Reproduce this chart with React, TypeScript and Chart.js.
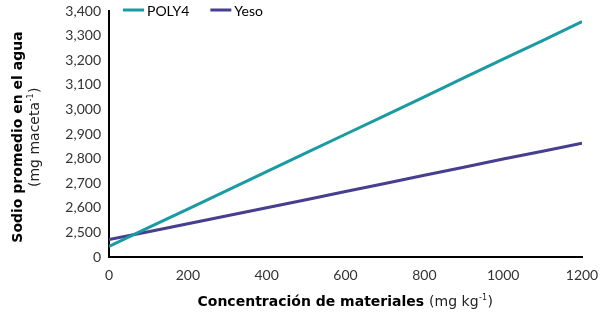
import { useEffect, useRef } from "react";
import { Chart, registerables } from "chart.js";

Chart.register(...registerables);

const concentrations = [0, 100, 200, 300, 400, 500, 600, 700, 800, 900, 1000, 1100, 1200];
const poly4Values = [2443, 2519, 2595, 2671, 2747, 2823, 2899, 2975, 3051, 3128, 3204, 3280, 3357];
const yesoValues = [2471, 2503, 2535, 2568, 2600, 2633, 2666, 2699, 2732, 2765, 2798, 2830, 2863];
const seriesNames = ["POLY4", "Yeso"];
const seriesColors = ["#1a9aa2", "#463e8e"];
const yMin = 2400;
const yMax = 3400;
const yStep = 100;
const yBreakLabel = "0";
const xTickValues = [0, 200, 400, 600, 800, 1000, 1200];
const xTitleBold = "Concentración de materiales";
const xTitleUnit = "(mg kg";
const yTitleBold = "Sodio promedio en el agua";
const yTitleUnit = "(mg maceta";

const FONT = "Lato, 'DejaVu Sans', sans-serif";
const TITLE_FONT = "'DejaVu Sans', sans-serif";

function drawUnit(ctx: CanvasRenderingContext2D, x: number, y: number, base: string, size: number) {
  ctx.textAlign = "left";
  ctx.font = `${size}px ${TITLE_FONT}`;
  ctx.fillText(base, x, y);
  let cx = x + ctx.measureText(base).width;
  ctx.font = `${Math.round(size * 0.6)}px ${TITLE_FONT}`;
  ctx.fillText("-1", cx + 0.5, y - size * 0.3);
  cx += ctx.measureText("-1").width + 1;
  ctx.font = `${size}px ${TITLE_FONT}`;
  ctx.fillText(")", cx, y);
}

function unitWidth(ctx: CanvasRenderingContext2D, base: string, size: number) {
  ctx.font = `${size}px ${TITLE_FONT}`;
  let w = ctx.measureText(base).width + ctx.measureText(")").width;
  ctx.font = `${Math.round(size * 0.6)}px ${TITLE_FONT}`;
  w += ctx.measureText("-1").width + 1.5;
  return w;
}

const decorPlugin = {
  id: "decor",
  afterDraw(chart: any) {
    const ctx: CanvasRenderingContext2D = chart.ctx;
    const area = chart.chartArea;
    ctx.save();
    ctx.fillStyle = "#000";
    ctx.textBaseline = "middle";

    const bSize = 14;
    const uSize = 14;
    ctx.font = `bold ${bSize}px ${TITLE_FONT}`;
    const bw = ctx.measureText(xTitleBold).width;
    const uw = unitWidth(ctx, xTitleUnit, uSize);
    const total = bw + 5 + uw;
    const cx = (area.left + area.right) / 2;
    const xStart = cx - total / 2;
    const ty = 302;
    ctx.textAlign = "left";
    ctx.font = `bold ${bSize}px ${TITLE_FONT}`;
    ctx.fillText(xTitleBold, xStart, ty);
    ctx.fillStyle = "#222";
    drawUnit(ctx, xStart + bw + 5, ty, xTitleUnit, uSize);

    const cy = (area.top + area.bottom) / 2 + 3;
    ctx.save();
    ctx.fillStyle = "#000";
    ctx.translate(18, cy);
    ctx.rotate(-Math.PI / 2);
    ctx.textAlign = "center";
    ctx.font = `bold ${bSize}px ${TITLE_FONT}`;
    ctx.fillText(yTitleBold, 0, 0);
    ctx.restore();

    ctx.save();
    ctx.fillStyle = "#222";
    ctx.translate(35, cy);
    ctx.rotate(-Math.PI / 2);
    const yuw = unitWidth(ctx, yTitleUnit, uSize);
    drawUnit(ctx, -yuw / 2, 0, yTitleUnit, uSize);
    ctx.restore();

    let lx = area.left + 14;
    const ly = 10;
    ctx.font = `14px ${FONT}`;
    seriesNames.forEach((name, i) => {
      ctx.strokeStyle = seriesColors[i];
      ctx.lineWidth = 3;
      ctx.beginPath();
      ctx.moveTo(lx, ly);
      ctx.lineTo(lx + 21, ly);
      ctx.stroke();
      ctx.fillStyle = "#000";
      ctx.textAlign = "left";
      ctx.fillText(name, lx + 24, ly + 1);
      lx += 24 + ctx.measureText(name).width + 21;
    });
    ctx.restore();
  },
};

export default function App() {
  const ref = useRef<HTMLCanvasElement | null>(null);
  useEffect(() => {
    if (!ref.current) return;
    const series = [poly4Values, yesoValues];
    const chart = new Chart(ref.current, {
      type: "line",
      data: {
        datasets: series.map((vals, i) => ({
          label: seriesNames[i],
          data: vals.map((v, j) => ({ x: concentrations[j], y: v })),
          borderColor: seriesColors[i],
          backgroundColor: seriesColors[i],
          borderWidth: 3,
          pointRadius: 0,
          tension: 0,
        })),
      },
      options: {
        animation: false,
        responsive: false,
        devicePixelRatio: 1,
        layout: { padding: { top: 11, right: 22, left: 0, bottom: 0 } },
        plugins: { legend: { display: false }, tooltip: { enabled: false } },
        scales: {
          x: {
            type: "linear",
            min: 0,
            max: 1200,
            afterBuildTicks: (scale: any) => {
              scale.ticks = xTickValues.map((v) => ({ value: v }));
            },
            grid: { display: false, drawTicks: false },
            border: { display: true, color: "#000", width: 2 },
            ticks: {
              color: "#333",
              font: { family: FONT, size: 14 },
              padding: 10,
              maxRotation: 0,
              callback: (v: any) => String(v),
            },
            afterFit: (scale: any) => {
              scale.height = 57;
              scale.paddingLeft = 0;
              scale.paddingRight = 0;
            },
          },
          y: {
            type: "linear",
            min: yMin,
            max: yMax,
            grid: { display: false, drawTicks: false },
            border: { display: true, color: "#000", width: 2 },
            ticks: {
              stepSize: yStep,
              color: "#333",
              font: { family: FONT, size: 14 },
              padding: 8,
              callback: (v: any) => (v === yMin ? yBreakLabel : Number(v).toLocaleString("en-US")),
            },
            afterFit: (scale: any) => {
              scale.width = 109;
              scale.paddingTop = 0;
              scale.paddingBottom = 0;
            },
          },
        },
      },
      plugins: [decorPlugin],
    } as any);
    return () => chart.destroy();
  }, []);
  return (
    <div style={{ position: "fixed", left: 0, top: 0, width: 604, height: 314, background: "#fff" }}>
      <canvas ref={ref} width={604} height={314} style={{ width: 604, height: 314 }} />
    </div>
  );
}
